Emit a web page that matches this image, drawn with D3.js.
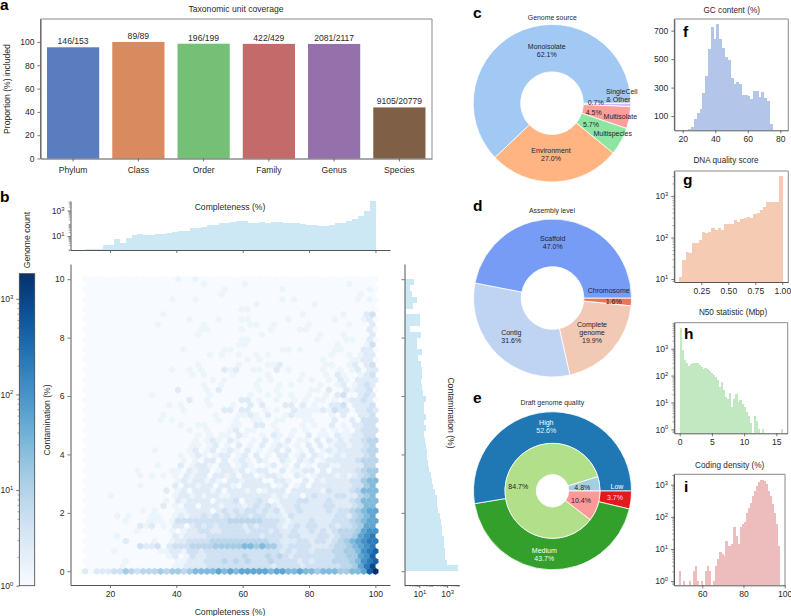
<!DOCTYPE html>
<html><head><meta charset="utf-8">
<script src="https://cdn.jsdelivr.net/npm/d3@7"></script>
<style>
html,body{margin:0;padding:0;background:#fff}
svg{display:block}
text{font-family:"Liberation Sans",Arial,sans-serif;fill:#2a2a2a}
</style></head><body><svg id="c" width="791" height="616"></svg>
<script>
// ---------- DATA ----------
const taxaNames = ["Phylum","Class","Order","Family","Genus","Species"];
const taxaIncluded = [146,89,196,422,2081,9105];
const taxaTotal = [153,89,199,429,2117,20779];
const taxaColors = ["#5a7dbf","#d98b5f","#74c076","#c56a6a","#9571ab","#7f6046"];

const completenessCounts = [1,1,1,2,2,6,3,7,12,14,11,11,14,15,16,19,26,26,40,40,51,70,70,100,105,120,144,144,113,113,129,100,120,120,106,106,106,88,74,80,65,65,74,100,110,144,219,380,940,5500];
const contaminationCounts = [6000,935,700,700,590,590,450,450,365,308,232,197,178,135,102,86,66,50,44,38,34,30,26,22,30,22,30,22,22,30,19,16,13,16,15,13,8.5,15,7.2,6.5,13,2.1,11,11,1.1,3.4,7.2,3.1,2.1,4.4];

// Hexbin colour level per cell, read row by row from y=0 upward (spaces only group columns)
const levelCounts = {"0":1,"2":1.5,"3":2.5,"4":4.5,"5":8,"6":14,"7":28,"8":55,"9":110,"a":220,"b":450,"c":900,"d":1830};
const hexRows = [
"30333 44654 55565 66567 77787 87888 88788 77877 67776 6778b d",
"00000 02000 00000 22333 34444 44444 44344 44344 44445 568ac",
"00000 00200 00000 02233 34445 45454 44544 44343 44455 5679a b",
"00000 00000 00002 30243 34444 44544 45454 34444 44455 6689b",
"00000 20000 00022 33244 34444 44444 44443 43443 44455 6679a b",
"00000 00004 33403 44455 55666 66776 76643 44443 33455 6789a",
"00000 00300 00200 23344 44555 55555 55443 33443 44345 6789a a",
"00000 20000 00000 32333 34444 44444 34443 44333 44345 5689a",
"00000 00002 00000 20233 44334 44434 44343 34334 34345 55689 9",
"00000 00003 23020 33034 34344 44343 44432 34344 33434 45688",
"00000 00200 02220 24444 44444 55555 54443 23334 33344 45678 8",
"00000 20200 02200 23233 43434 34434 43332 43333 33344 35678",
"00000 00000 20200 02233 33034 34344 34342 33433 33434 45678 8",
"00000 00000 00030 20330 33323 33234 34323 34333 34433 34577",
"00000 00000 00002 03233 33033 34033 43023 33443 33433 34577 7",
"00002 00000 00000 23323 23322 33333 33232 33034 33344 33567",
"00000 00000 00003 02303 33230 33323 02333 03333 32433 34577 7",
"00000 00002 00000 30332 33033 20333 33023 02303 33333 34467",
"00000 00000 00000 02323 32320 33233 30033 20030 32333 34467 7",
"00000 00002 02020 20323 30332 30330 23320 03202 33323 23456",
"00000 00002 00000 22032 33023 32302 33003 02233 03033 33456 6",
"00000 00000 00200 03023 32033 02320 02302 03020 33223 33355",
"00000 00000 00000 00202 03303 02320 32003 20323 02333 33455 5",
"00000 00000 00000 02023 20233 02303 02033 02303 20232 33345",
"00000 00000 00200 00023 02302 32030 20230 30203 02323 33345 5",
"00000 00000 00000 00022 02302 03020 30232 02030 30233 23345",
"00000 00000 00000 00002 02320 32002 03020 30220 30323 23345 5",
"00000 00000 00000 00002 02022 03200 20320 20030 22032 23344"
];
// Sparse upper rows 28..58: column[:level], default level 2
const hexSparseRows = [
"18 21 25 26:3 28 29 33 36 38 41 43 45 47:3 48:4 49:4 50:4",
"16 19 20 25 26 29:3 30:3 32 37 39 42:3 44 46:3 47:3 48:4 49:4",
"13 15 23 26 29 30 33 34 38 39 43:3 46:3 48:4 49:4 50:4",
"13 22 26 27 28:3 29 31:3 34 35:3 36 37 38 42 44:3 47:3 48:3 49:4",
"17 24:3 25:3 27:3 28:3 31 33 36:3 37 38 39 40 41:3 42 43:4 44:3 45:3 47:3 48:3 49:4 50:3",
"14 16 21 25 28:3 30:3 34:3 35:3 37:3 39 42:3 43:3 44:4 46:3 47:3 48:3 49:4",
"18:3 21 27:3 28:3 30 33 36 38 40 41 43 45 46:3 47:3 48:4 49:3",
"11 21 28 31 33 35 38 41 43:3 44:4 47:3 48:4 49:3",
"16:3 21 23:3 30 33 39 40 42:3 45:3 46 47:3 48:3 49:4",
"20 23 29 33 35 40 43 44:3 46 47:3 48:4 49:3",
"22 24 30 32 37 39 42 44:3 45 47:3 48:3 49:3 50:3",
"18 20 25 31 37 41 43:3 44 47 48:3 49:4",
"15 18 20 24:3 25 26:3 29 30 33:3 35 41 44 46 47:3 49:3 50:3",
"19 26 31 32 33:3 41 42 45 46:3 48:3 49:4",
"28 30 41 46 47 48:3 49:3",
"21 23 26 29 31 42 45 47 48:3 49:3",
"17 24 25 34 35 37 43 44 48:3 49:3",
"26 27 43 48 49:4",
"27 28 40 45 46 49:3",
"19 30 40 44 49:3",
"20 21 27 32 37 38 49:3",
"12 20 28 29 32 38 45 49:3",
"18 23 27 28 35 43 48 49:3",
"13 37 44 48:3 49:4",
"27 28",
"29 39",
"15 19 34 36 47 49",
"23 47",
"24 34 49",
"20 27 45",
"16 19"
];

const gcCounts = [7,20,80,125,150,262,380,573,725,640,747,640,575,513,495,365,323,340,323,250,250,241,222,274,274,234,267,230,205,42];
const dnaCounts = [11.2,28.7,45.6,41.5,72.5,72.5,87,135,126,133,166,152,166,152,211,207,211,264,240,279,300,318,300,368,383,459,530,718,718,718,718,3030];
const n50Counts = [6000,890,378,300,225,268,285,300,285,245,213,175,185,170,152,128,105,85,68,36,60,30,16,14,22,6.6,13.4,20,10.7,12,9,6.6,4.5,3,1.7,0,3,2,1,0,1,0,0,0,0,0,0,0,0,1];
const codingCounts = [2,0,1,0,0,1,0,2,3,1,0,1,0,2,3,2,0,1,3,4.7,8,7,6,18,12,12,14,48,25,14,49,58,69,134,192,262,444,640,910,1220,1400,1400,1270,1030,640,444,245,134,58,12];

const sourceNames = ["SingleCell & Other","Multisolate","Multispecies","Environment","Monoisolate"];
const sourceShares = [0.7,4.5,5.7,27.0,62.1];
const assemblyNames = ["Chromosome","Complete genome","Contig","Scaffold"];
const assemblyShares = [1.6,19.9,31.6,47.0];
const qualityNames = ["Low","Medium","High"];
const qualityShares = [3.7,43.7,52.6];
const qualityInnerShares = [10.4,84.7,4.8];

// ---------- STYLE / LAYOUT ----------
const svg = d3.select("#c");
const AXC = "#555", BOXC = "#8a8a8a", TXT = "#2a2a2a", FS = 8.6;
const histBlue = "#cde8f5";
const blues = d3.scaleSequentialLog(d3.interpolateBlues).domain([1,1830]);

function txt(g,x,y,s,o={}){
  const t = g.append("text").attr("x",x).attr("y",y).text(s)
    .attr("font-size",o.size||FS).attr("text-anchor",o.anchor||"middle");
  if(o.fill) t.style("fill",o.fill);
  if(o.weight) t.attr("font-weight",o.weight);
  if(o.rotate!=null) t.attr("transform",`rotate(${o.rotate} ${x} ${y})`);
  if(o.mid!==false) t.attr("dominant-baseline","central");
  return t;
}
function styleAxis(a,opts={}){
  a.selectAll("path.domain").attr("stroke",opts.domain||AXC).attr("stroke-width",1);
  a.selectAll(".tick line").attr("stroke",AXC).attr("stroke-width",.8);
  a.selectAll("text").attr("font-size",FS).style("fill",TXT);
}
function linAxis(gen,tx,ty,ticks,fmt,size=3,nolabel=false){
  const ax = gen.tickValues(ticks).tickSize(size).tickSizeOuter(0).tickPadding(3);
  ax.tickFormat(nolabel?()=>"":(fmt||(d=>d)));
  const g = svg.append("g").attr("transform",`translate(${tx},${ty})`).call(ax);
  styleAxis(g); return g;
}
function minorsIn(scale){
  const [a,b]=scale.domain(), out=[];
  for(let k=-1;k<5;k++)for(let m=2;m<10;m++){const v=m*10**k;if(v>=a&&v<=b)out.push(v);}
  return out;
}
function supLabels(g){
  g.selectAll(".tick text").each(function(d){
    const t=d3.select(this); const e=Math.round(Math.log10(d));
    t.text(null);
    t.append("tspan").text("10");
    t.append("tspan").text(e).attr("font-size",5.8).attr("dy",-3.2);
  });
}
function logAxis(side,scale,tx,ty,decades,labelled=true){
  const mk = side==="left"?d3.axisLeft:d3.axisBottom;
  const minor = svg.append("g").attr("transform",`translate(${tx},${ty})`)
    .call(mk(scale).tickValues(minorsIn(scale)).tickSize(1.8).tickFormat(()=>""));
  minor.select("path.domain").remove();
  minor.selectAll(".tick line").attr("stroke",AXC).attr("stroke-width",.5);
  const g = svg.append("g").attr("transform",`translate(${tx},${ty})`)
    .call(mk(scale).tickValues(decades).tickSize(3).tickSizeOuter(0).tickPadding(3).tickFormat(d=>labelled?"x":""));
  styleAxis(g);
  if(labelled) supLabels(g);
  return g;
}
function box(x0,y0,x1,y1){
  svg.append("path").attr("d",`M${x0},${y1}V${y0}H${x1}V${y1}`).attr("fill","none").attr("stroke",BOXC).attr("stroke-width",1);
}
function letter(s,x,y){ txt(svg,x,y,s,{size:15.5,weight:"bold",anchor:"start",mid:false,fill:"#000"}); }

// ---------- PANEL A ----------
{
  const x=d3.scaleBand().domain(taxaNames).range([40.5,432]).paddingInner(.2).paddingOuter(.1);
  const y=d3.scaleLinear().domain([0,119.7]).range([158.5,19]);
  const vals=taxaIncluded.map((v,i)=>v/taxaTotal[i]*100);
  box(40.5,19,432,158.5);
  svg.append("g").selectAll("rect").data(taxaNames).join("rect")
    .attr("x",d=>x(d)).attr("width",x.bandwidth())
    .attr("y",(d,i)=>y(vals[i])).attr("height",(d,i)=>y(0)-y(vals[i]))
    .attr("fill",(d,i)=>taxaColors[i]);
  taxaNames.forEach((d,i)=>txt(svg,x(d)+x.bandwidth()/2,y(vals[i])-6,taxaIncluded[i]+"/"+taxaTotal[i]));
  linAxis(d3.axisLeft(y),40.5,0,[0,20,40,60,80,100]);
  const gb=svg.append("g").attr("transform","translate(0,158.5)")
    .call(d3.axisBottom(x).tickSize(3).tickSizeOuter(0).tickPadding(5)); styleAxis(gb);
  txt(svg,7,89,"Proportion (%) included",{rotate:-90});
  txt(svg,236,9,"Taxonomic unit coverage");
  letter("a",0,10);
}

// ---------- PANEL B ----------
const compX=d3.scaleLinear().domain([8.1,104.4]).range([70.5,390]);
const contY=d3.scaleLinear().domain([-.47,10.52]).range([585,264]);
const hexX0=12.5, hexDX=1.75, hexDY=10/58;
{
  // top histogram
  const yt=d3.scaleLog().domain([.8,5600]).range([250,201]);
  svg.append("g").attr("shape-rendering","crispEdges").selectAll("rect").data(completenessCounts).join("rect")
    .attr("x",(d,i)=>compX(hexX0+i*hexDX)).attr("width",(d,i)=>compX(hexX0+(i+1)*hexDX)-compX(hexX0+i*hexDX)+.3)
    .attr("y",d=>yt(d)).attr("height",d=>250-yt(d)).attr("fill",histBlue);
  logAxis("left",yt,70.5,0,[10,1000]);
  linAxis(d3.axisBottom(compX),0,250,[20,40,60,80,100],null,3,true);
  txt(svg,230,206.5,"Completeness (%)");

  // hexbin cells
  const levels=new Map();
  hexRows.forEach((s,r)=>{[...s.replace(/ /g,"")].forEach((c,i)=>levels.set(r+"_"+i,levelCounts[c]));});
  hexSparseRows.forEach((s,k)=>{s.split(" ").forEach(t=>{
    const [i,l]=t.split(":"); levels.set((k+28)+"_"+i,levelCounts[l||"2"]);});});
  const cells=[];
  for(let r=0;r<=58;r++){
    const odd=r%2===1, n=odd?50:51;
    for(let i=0;i<n;i++) cells.push({
      x:hexX0+(i+(odd?.5:0))*hexDX, y:r*hexDY, v:levels.get(r+"_"+i)||1});
  }
  const sx=compX(hexX0+hexDX)-compX(hexX0), sy=contY(0)-contY(2*hexDY);
  const hexPath=d3.line()([[.5*sx,-sy/6],[.5*sx,sy/6],[0,sy/3],[-.5*sx,sy/6],[-.5*sx,-sy/6],[0,-sy/3]])+"Z";
  svg.append("g").selectAll("path").data(cells.sort((a,b)=>a.v-b.v)).join("path")
    .attr("d",hexPath).attr("transform",d=>`translate(${compX(d.x)},${contY(d.y)})`)
    .attr("fill",d=>blues(d.v)).attr("stroke",d=>blues(d.v)).attr("stroke-width",.3);
  linAxis(d3.axisLeft(contY),70.5,0,[0,2,4,6,8,10]);
  linAxis(d3.axisBottom(compX),0,585,[20,40,60,80,100]);
  txt(svg,230,611.5,"Completeness (%)");
  txt(svg,46.5,420,"Contamination (%)",{rotate:-90});

  // right histogram
  const xr=d3.scaleLog().domain([.86,7180]).range([404.5,459]);
  svg.append("g").attr("shape-rendering","crispEdges").selectAll("rect").data(contaminationCounts).join("rect")
    .attr("x",404.5).attr("width",d=>xr(d)-404.5)
    .attr("y",(d,i)=>contY((i+1)*.2)).attr("height",(d,i)=>contY(i*.2)-contY((i+1)*.2)+.2)
    .attr("fill",histBlue);
  linAxis(d3.axisLeft(contY),404.5,0,[0,2,4,6,8,10],null,3,true);
  logAxis("bottom",xr,0,585,[10,1000]);
  txt(svg,451,413,"Contamination (%)",{rotate:90});

  // colourbar
  const cb=d3.scaleLog().domain([1,1830]).range([585.7,273.7]);
  const defs=svg.append("defs");
  const grad=defs.append("linearGradient").attr("id","cbg").attr("x1",0).attr("x2",0).attr("y1",1).attr("y2",0);
  d3.range(0,1.001,.05).forEach(t=>grad.append("stop").attr("offset",t).attr("stop-color",d3.interpolateBlues(t)));
  svg.append("rect").attr("x",19.3).attr("y",273.7).attr("width",15.4).attr("height",312)
    .attr("fill","url(#cbg)").attr("stroke","#444").attr("stroke-width",.8);
  const g=logAxis("left",cb,19.3,0,[1,10,100,1000]);
  g.select("path.domain").remove();
  txt(svg,27,240,"Genome count",{rotate:-90});
  letter("b",0,202);
}

// ---------- PIES ----------
function donut(cx,cy,vals,colors,r0,r1,start=Math.PI/2){
  const pie=d3.pie().sort(null).value(d=>d).startAngle(start).endAngle(start+2*Math.PI);
  const arc=d3.arc().innerRadius(r0).outerRadius(r1);
  svg.append("g").attr("transform",`translate(${cx},${cy})`).selectAll("path").data(pie(vals)).join("path")
    .attr("d",arc).attr("fill",(d,i)=>colors[i]).attr("stroke","#fff").attr("stroke-width",.8);
}
const PF=7;
function plabel(x,y,s,fill){ txt(svg,x,y,s,{size:PF,fill:fill||"#1c2330"}); }
{
  donut(552,103.2,sourceShares,["#d0bbff","#ff9f9b","#8de5a1","#ffb482","#a1c9f4"],31.3,78.8);
  txt(svg,552.3,17,"Genome source",{size:6.9});
  plabel(546.7,46.7,"Monoisolate"); plabel(546.7,54.5,sourceShares[4].toFixed(1)+"%");
  plabel(551,150.7,"Environment"); plabel(551,158.7,sourceShares[3].toFixed(1)+"%");
  plabel(621.7,91.7,"SingleCell"); plabel(618.3,99.7,"& Other"); plabel(595.7,102.7,sourceShares[0].toFixed(1)+"%");
  plabel(593.7,112,sourceShares[1].toFixed(1)+"%"); plabel(620.3,116.7,"Multisolate");
  plabel(591,124.7,sourceShares[2].toFixed(1)+"%"); plabel(612.7,133.3,"Multispecies");
  letter("c",473,18);

  donut(552.5,298,assemblyShares,["#e8775a","#f2c9b4","#bfd3f3","#779cf5"],31.3,79);
  txt(svg,552,210.7,"Assembly level",{size:6.9});
  plabel(552.7,238.3,"Scaffold"); plabel(552.7,246.3,assemblyShares[3].toFixed(1)+"%");
  plabel(608.7,290.3,"Chromosome"); plabel(613.7,301,assemblyShares[0].toFixed(1)+"%");
  plabel(592,324.7,"Complete"); plabel(592,332.7,"genome"); plabel(592,340.7,assemblyShares[1].toFixed(1)+"%");
  plabel(511.3,332.3,"Contig"); plabel(511.3,340.3,assemblyShares[2].toFixed(1)+"%");
  letter("d",473,211);

  donut(552.5,490.8,qualityShares,["#e31a1c","#33a02c","#1f78b4"],47.5,79);
  donut(552.5,490.8,qualityInnerShares,["#fb9a99","#b2df8a","#a6cee3"],16.2,47.5);
  txt(svg,552.3,402.7,"Draft genome quality",{size:6.9});
  plabel(546.3,422.3,"High","#fff"); plabel(546.3,430.3,qualityShares[2].toFixed(1)+"%","#e8f3fb");
  plabel(617,486.7,"Low","#fff"); plabel(615,497,qualityShares[0].toFixed(1)+"%","#fde");
  plabel(544.3,550.7,"Medium","#fff"); plabel(544.3,558.3,qualityShares[1].toFixed(1)+"%","#f0fbef");
  plabel(518.3,486,qualityInnerShares[1].toFixed(1)+"%"); plabel(582.3,487,qualityInnerShares[2].toFixed(1)+"%"); plabel(581,500.3,qualityInnerShares[0].toFixed(1)+"%");
  letter("e",473,403);
}

// ---------- SIDE HISTOGRAMS ----------
function sideHist(o){
  const x=d3.scaleLinear().domain(o.xd).range([o.l,o.r]);
  const y=(o.log?d3.scaleLog():d3.scaleLinear()).domain(o.yd).range([o.b,o.t]);
  const w=(o.x1-o.x0)/o.data.length;
  box(o.l,o.t,o.r,o.b);
  const base=o.log?o.b:y(0);
  svg.append("g").attr("shape-rendering","crispEdges").selectAll("rect").data(o.data).join("rect")
    .attr("x",(d,i)=>x(o.x0+i*w)).attr("width",x(o.x0+w)-x(o.x0)+.25)
    .attr("y",d=>d>0?y(d):base).attr("height",d=>d>0?base-y(d):0).attr("fill",o.color);
  if(o.log) logAxis("left",y,o.l,0,o.yt);
  else linAxis(d3.axisLeft(y),o.l,0,o.yt);
  linAxis(d3.axisBottom(x),0,o.b,o.xt,o.xf);
  txt(svg,o.tx,o.ty,o.title,{size:8.2});
  letter(o.letter,o.lx,o.ly);
}
sideHist({data:gcCounts,x0:23.5,x1:75.2,xd:[14.84,84.9],yd:[0,782],l:674.3,r:788.3,t:19,b:130.3,yt:[100,300,500,700],xt:[20,40,60,80],
  color:"#b3c6e9",title:"GC content (%)",tx:731.7,ty:10,letter:"f",lx:683,ly:36.5});
sideHist({data:dnaCounts,log:true,x0:.046,x1:1,xd:[0,1.0556],yd:[8.5,3980],l:674.3,r:788.3,t:171,b:282,yt:[10,100,1000],xt:[.25,.5,.75,1],xf:d3.format(".2f"),
  color:"#f5cbb3",title:"DNA quality score",tx:726,ty:160.7,letter:"g",lx:683,ly:185});
sideHist({data:n50Counts,log:true,x0:0,x1:16,xd:[-.84,16.77],yd:[.71,9300],l:674.3,r:787.7,t:322.7,b:433.3,yt:[1,10,100,1000],xt:[0,5,10,15],
  color:"#c1e8c0",title:"N50 statistic (Mbp)",tx:733,ty:312.7,letter:"h",lx:684,ly:339});
sideHist({data:codingCounts,log:true,x0:48.6,x1:97.7,xd:[46.26,100.15],yd:[.74,2100],l:674,r:785,t:474.3,b:585.3,yt:[1,10,100,1000],xt:[60,80,100],
  color:"#edbdbd",title:"Coding density (%)",tx:729.7,ty:465,letter:"i",lx:684,ly:491.7});
</script></body></html>
